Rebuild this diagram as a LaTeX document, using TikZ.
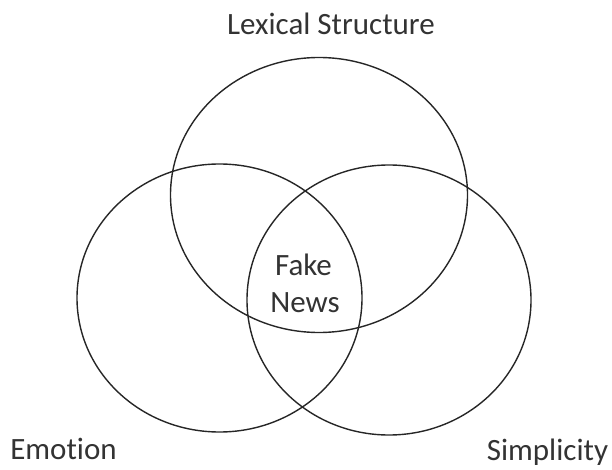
\documentclass[tikz,border=0pt]{standalone}
\usepackage{fontspec}
\setmainfont[Ligatures=CommonOff]{Carlito}
\begin{document}
\begin{tikzpicture}[x=1pt,y=-1pt,
  set/.style={draw=black!85,line width=1.4pt},
  lbl/.style={font=\fontsize{31}{37}\selectfont,text=black!80,anchor=base,inner sep=0pt}]
\useasboundingbox (0,0) rectangle (612,470);
\draw[set] (319,195) ellipse [x radius=148.5, y radius=137.5];
\draw[set] (219.5,298) ellipse [x radius=142.5, y radius=134];
\draw[set] (389,300) ellipse [x radius=142, y radius=135];
\node[lbl] (lex) at (331,35) {Lexical Structure};
\node[lbl] (emo) at (63.5,459) {Emotion};
\node[lbl] (sim) at (547.5,460) {Simplicity};
\node[lbl] (fake) at (303.5,275) {Fake};
\node[lbl] (news) at (305,312) {News};
\end{tikzpicture}
\end{document}
